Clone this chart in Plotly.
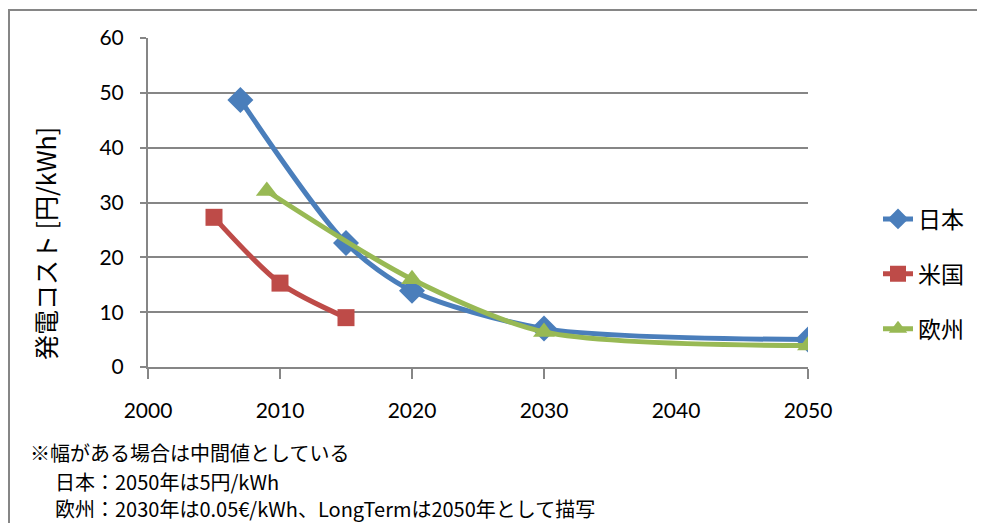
import plotly.graph_objects as go

# data
jp_years = [2007, 2015, 2020, 2030, 2050]
jp_cost = [48.7, 22.6, 13.9, 7.0, 5.0]
us_years = [2005, 2010, 2015]
us_cost = [27.3, 15.3, 9.0]
eu_years = [2009, 2020, 2030, 2050]
eu_cost = [32.1, 16.0, 6.4, 3.9]
names = ["日本", "米国", "欧州"]
y_title = "発電コスト [円/kWh]"
notes = ["※幅がある場合は中間値としている",
         "日本：2050年は5円/kWh",
         "欧州：2030年は0.05€/kWh、LongTermは2050年として描写"]

OFF = 8  # browser body margin (on every side)
W, H = 987 - 2 * OFF, 531 - 2 * OFF  # avoid page overflow / scrollbars
# plot area in page pixels
PL, PR, PT, PB = 148, 808, 38, 367
L, R, T, B = PL - OFF, PR - OFF, PT - OFF, PB - OFF

cjk = "Noto Sans CJK JP"
num = "Lato"

fig = go.Figure()
series = [
    (jp_years, jp_cost, "#4a7ebb", "diamond", 20),
    (us_years, us_cost, "#be4b48", "square", 17),
    (eu_years, eu_cost, "#98b954", "triangle-up", 19),
]
for i, (xs, ys, col, sym, ms) in enumerate(series):
    fig.add_trace(go.Scatter(
        x=xs, y=ys, name=names[i], mode="lines+markers",
        line=dict(color=col, width=5, shape="spline", smoothing=0.8),
        marker=dict(symbol=sym, size=ms, color=col),
        legendgroup=str(i),
    ))


def px_x(p):
    return (p - PL) / (PR - PL)


def px_y(p):
    return (PB - p) / (PB - PT)


fig.update_layout(
    width=W, height=H,
    margin=dict(l=L, r=W - R, t=T, b=H - B, pad=0, autoexpand=False),
    paper_bgcolor="white", plot_bgcolor="white",
    font=dict(family=num, size=21, color="black"),
    showlegend=True,
    legend=dict(x=px_x(878), xanchor="left",
                y=px_y(274), yanchor="middle",
                font=dict(family=cjk, size=23),
                tracegroupgap=22, bgcolor="rgba(0,0,0,0)"),
    xaxis=dict(range=[2000, 2050], dtick=10, tick0=2000, showgrid=False,
               showline=True, linecolor="#868686", linewidth=2,
               ticks="outside", ticklen=10, tickcolor="#868686", tickwidth=2,
               ticklabelstandoff=14, zeroline=False,
               tickfont=dict(family=num, size=21)),
    yaxis=dict(range=[0, 60], dtick=10, tick0=0, showgrid=True,
               gridcolor="#868686", gridwidth=2,
               showline=True, linecolor="#868686", linewidth=2,
               ticks="outside", ticklen=6, tickcolor="#868686", tickwidth=2,
               ticklabelstandoff=12, zeroline=False,
               tickfont=dict(family=num, size=21)),
)

# y-axis title (placed lower than plot centre, as in reference)
fig.add_annotation(text=y_title, xref="paper", yref="paper",
                   x=px_x(45), y=px_y(244), xanchor="center", yanchor="middle",
                   textangle=-90, showarrow=False,
                   font=dict(family=cjk, size=25))

# outer frame (top and left edges visible in reference), one open polyline
xl, xr = px_x(9), px_x(977)
yt, yb = px_y(10), px_y(523)
fig.add_shape(type="path", xref="paper", yref="paper",
              path=f"M {xr},{yt} L {xl},{yt} L {xl},{yb}",
              line=dict(color="#868686", width=2))

note_pos = [(28, 452), (53, 481), (53, 509)]
for txt, (x, y) in zip(notes, note_pos):
    fig.add_annotation(text=txt, xref="paper", yref="paper",
                       x=px_x(x), y=px_y(y), xanchor="left", yanchor="middle",
                       showarrow=False, font=dict(family=cjk, size=20))

fig.write_html("out.html")
